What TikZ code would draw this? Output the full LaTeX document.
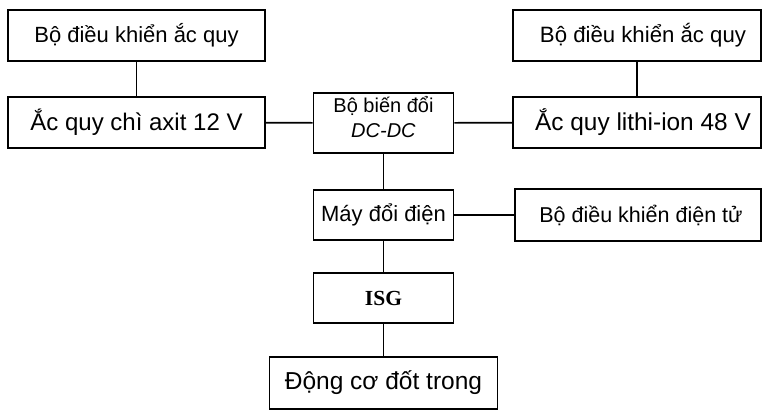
\documentclass[tikz,border=0pt]{standalone}
\usepackage{fontspec}
\setmainfont{Liberation Sans}
\newfontfamily\serifisg{Liberation Serif}
\begin{document}
\begin{tikzpicture}[x=1pt,y=-1pt,
  blk/.style={draw=black,line width=1.9pt,rectangle,inner sep=0pt,align=center},
  conn/.style={draw=black,line width=1.7pt},
  fs/.style={font=\fontsize{#1}{#1}\selectfont}]
\useasboundingbox[fill=white] (0,0) rectangle (763,411);
\node[blk,minimum width=257,minimum height=51,fs=22] (c1) at (136.5,35.5) {Bộ điều khiển ắc quy};
\node[blk,minimum width=257,minimum height=51,fs=24] (b1) at (136.5,122.5) {Ắc quy chì axit 12 V};
\node[blk,minimum width=140,minimum height=60,
  label={[font=\fontsize{20}{26}\selectfont,align=center,inner sep=0pt,yshift=6pt]center:Bộ biến đổi\\[-1pt]\textit{DC-DC}}] (dc) at (383.5,123) {};
\node[blk,minimum width=248,minimum height=51,fs=22.2] (c2) at (637,35.5) {\hspace{12pt}Bộ điều khiển ắc quy};
\node[blk,minimum width=248,minimum height=51,fs=24.4] (b2) at (637,122.5) {\hspace{12pt}Ắc quy lithi-ion 48 V};
\node[blk,minimum width=140,minimum height=50,fs=22] (inv) at (383.5,215) {Máy đổi điện};
\node[blk,minimum width=246,minimum height=52,fs=21.5] (ecu) at (638,215) {\hspace{6pt}Bộ điều khiển điện tử};
\node[blk,minimum width=140,minimum height=50,font=\serifisg\bfseries\fontsize{21.5}{21.5}\selectfont] (isg) at (383.5,298) {ISG};
\node[blk,minimum width=228,minimum height=52,fs=24.5] (eng) at (383.5,383) {Động cơ đốt trong};
\draw[conn] (c1) -- (b1);
\draw[conn] (c2) -- (b2);
\draw[conn] (b1) -- (dc);
\draw[conn] (dc) -- (b2);
\draw[conn] (dc) -- (inv);
\draw[conn] (inv) -- (ecu);
\draw[conn] (inv) -- (isg);
\draw[conn] (isg) -- (eng);
\end{tikzpicture}
\end{document}
